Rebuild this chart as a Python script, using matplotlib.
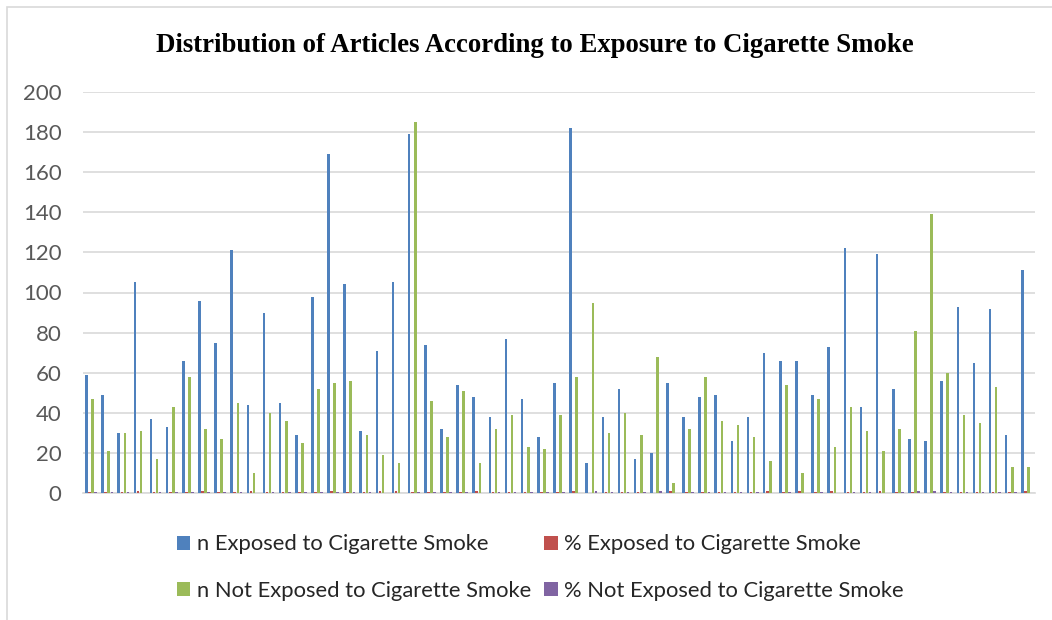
import matplotlib
matplotlib.use("Agg")
import matplotlib.pyplot as plt
import numpy as np

n_exposed = [59, 49, 30, 105, 37, 33, 66, 96, 75, 121, 44, 90, 45, 29, 98, 169, 104, 31, 71, 105,
             179, 74, 32, 54, 48, 38, 77, 47, 28, 55, 182, 15, 38, 52, 17, 20, 55, 38, 48, 49,
             26, 38, 70, 66, 66, 49, 73, 122, 43, 119, 52, 27, 26, 56, 93, 65, 92, 29, 111]
n_not_exposed = [47, 21, 30, 31, 17, 43, 58, 32, 27, 45, 10, 40, 36, 25, 52, 55, 56, 29, 19, 15,
                 185, 46, 28, 51, 15, 32, 39, 23, 22, 39, 58, 95, 30, 40, 29, 68, 5, 32, 58, 36,
                 34, 28, 16, 54, 10, 47, 23, 43, 31, 21, 32, 81, 139, 60, 39, 35, 53, 13, 13]
# percentages stored as fractions (tiny bars on this scale)
pct_exposed = [0.56, 0.70, 0.50, 0.77, 0.69, 0.43, 0.53, 0.75, 0.74, 0.73, 0.81, 0.69, 0.56, 0.54, 0.65,
               0.75, 0.65, 0.52, 0.79, 0.88, 0.49, 0.62, 0.53, 0.51, 0.76, 0.54, 0.66, 0.67, 0.56, 0.59,
               0.76, 0.14, 0.56, 0.57, 0.37, 0.23, 0.92, 0.54, 0.45, 0.58, 0.43, 0.58, 0.81, 0.55, 0.87,
               0.51, 0.76, 0.74, 0.58, 0.85, 0.62, 0.25, 0.16, 0.48, 0.70, 0.65, 0.63, 0.69, 0.90]
pct_not_exposed = [0.44, 0.30, 0.50, 0.23, 0.31, 0.57, 0.47, 0.25, 0.26, 0.27, 0.19, 0.31, 0.44, 0.46, 0.35,
                   0.25, 0.35, 0.48, 0.21, 0.12, 0.51, 0.38, 0.47, 0.49, 0.24, 0.46, 0.34, 0.33, 0.44, 0.41,
                   0.24, 0.86, 0.44, 0.43, 0.63, 0.77, 0.08, 0.46, 0.55, 0.42, 0.57, 0.42, 0.19, 0.45, 0.13,
                   0.49, 0.24, 0.26, 0.42, 0.15, 0.38, 0.75, 0.84, 0.52, 0.30, 0.35, 0.37, 0.31, 0.10]

labels = ["n Exposed to Cigarette Smoke", "% Exposed to Cigarette Smoke",
          "n Not Exposed to Cigarette Smoke", "% Not Exposed to Cigarette Smoke"]
colors = ["#4f81bd", "#c0504d", "#9bbb59", "#8064a2"]

fig = plt.figure(figsize=(10.52, 6.2), dpi=100)
ax = fig.add_axes([83 / 1052, 1 - 493 / 620, 952 / 1052, 401 / 620])

# light frame like the chart area border
fig.add_artist(plt.Rectangle((7 / 1052, -0.1), 1.2, 1 - 7 / 620 + 0.1, transform=fig.transFigure,
                             fill=False, edgecolor="#d9d9d9", linewidth=1.2))

x = np.arange(len(n_exposed))
slot = 0.19
width = 0.16
series = [n_exposed, pct_exposed, n_not_exposed, pct_not_exposed]
bars = []
for i, (vals, col, lab) in enumerate(zip(series, colors, labels)):
    bars.append(ax.bar(x + (i - 1.5) * slot, vals, width, color=col, label=lab, zorder=3))

ax.set_xlim(-0.5, len(n_exposed) - 0.5)
ax.set_ylim(0, 200)
ax.set_yticks(range(0, 201, 20))
ax.set_xticks([])
ax.grid(axis="y", color="#d9d9d9", linewidth=1.2, zorder=0)
for s in ["top", "right", "left"]:
    ax.spines[s].set_visible(False)
ax.spines["bottom"].set_color("#d9d9d9")
ax.spines["bottom"].set_linewidth(1.2)
ax.tick_params(axis="y", length=0, pad=15.5, labelsize=16, labelcolor="#595959")
for t in ax.get_yticklabels():
    t.set_fontfamily("Lato")

fig.text(535 / 1052, 1 - 45 / 620, "Distribution of Articles According to Exposure to Cigarette Smoke",
         ha="center", va="center", fontsize=19.3, fontweight="bold", family="Liberation Serif")

# legend fills column-first, so reorder to get the row layout of the original
order = [0, 2, 1, 3]
ax.legend([bars[i] for i in order], [labels[i] for i in order],
          loc="center", bbox_to_anchor=(0.4806, -0.1858), ncol=2, frameon=False,
          prop={"family": "Lato", "size": 15.8}, handlelength=0.6, handleheight=0.6,
          handletextpad=0.3, columnspacing=0.6, labelspacing=1.2, labelcolor="#262626")

fig.savefig("out.png", dpi=100)
